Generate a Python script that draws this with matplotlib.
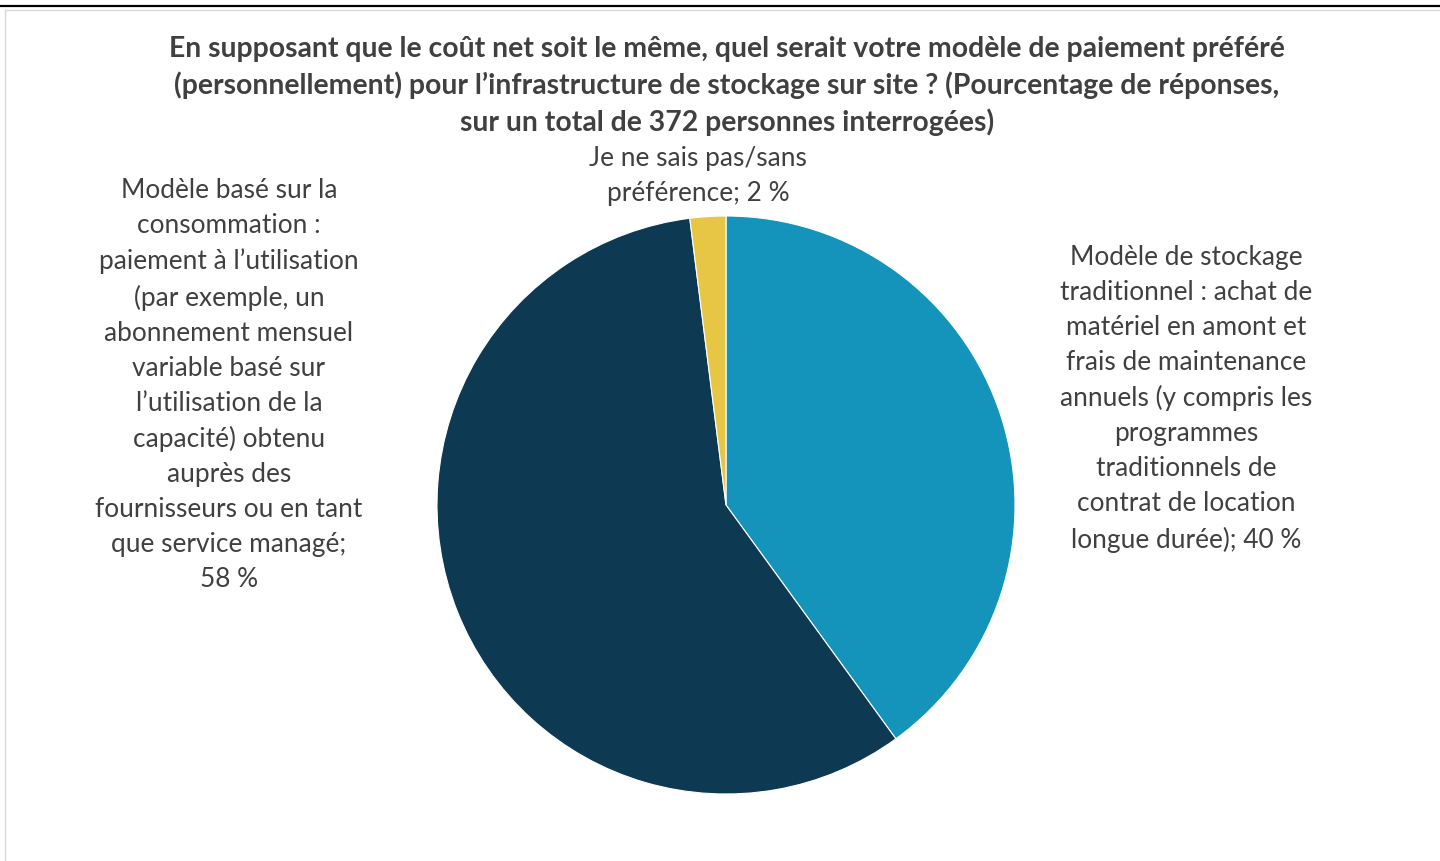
import matplotlib.pyplot as plt
from matplotlib.lines import Line2D

# data
labels = [
    "Modèle de stockage\ntraditionnel : achat de\nmatériel en amont et\nfrais de maintenance\n"
    "annuels (y compris les\nprogrammes\ntraditionnels de\ncontrat de location\nlongue durée); 40 %",
    "Modèle basé sur la\nconsommation :\npaiement à l’utilisation\n(par exemple, un\n"
    "abonnement mensuel\nvariable basé sur\nl’utilisation de la\ncapacité) obtenu\nauprès des\n"
    "fournisseurs ou en tant\nque service managé;\n58 %",
    "Je ne sais pas/sans\npréférence; 2 %",
]
values = [40, 58, 2]
colors = ["#1494BA", "#0D3A52", "#E8C645"]
title = ("En supposant que le coût net soit le même, quel serait votre modèle de paiement préféré\n"
         "(personnellement) pour l’infrastructure de stockage sur site ? (Pourcentage de réponses,\n"
         "sur un total de 372 personnes interrogées)")

W, H = 1440, 862
plt.rcParams['font.family'] = ['Lato', 'DejaVu Sans']
fig = plt.figure(figsize=(W / 100, H / 100), dpi=100)

def px(x, y):
    return x / W, 1 - y / H

# frame lines
fig.add_artist(Line2D([0, 1], [1 - 7 / H, 1 - 7 / H], color="black", lw=1.6))
fig.add_artist(Line2D([5 / W, 1], [1 - 11 / H, 1 - 11 / H], color="#D9D9D9", lw=1))
fig.add_artist(Line2D([5 / W, 5 / W], [0, 1 - 11 / H], color="#D9D9D9", lw=1))

# pie
cx, cy, r = 726, 506, 289
ax = fig.add_axes([(cx - r) / W, (H - cy - r) / H, 2 * r / W, 2 * r / H])
ax.pie(values, colors=colors, startangle=90, counterclock=False, radius=1,
       wedgeprops=dict(linewidth=0.8, edgecolor="white"))
ax.set_xlim(-1, 1)
ax.set_ylim(-1, 1)
ax.axis("off")

txt = "#404040"
fig.text(*px(727, 86), title, ha="center", va="center", fontsize=20.4, fontweight="bold",
         color=txt, linespacing=1.41)

label_pos = [(1186, 399), (229, 385), (698, 176)]
for lab, (x, y) in zip(labels, label_pos):
    fig.text(*px(x, y), lab, ha="center", va="center", fontsize=18.9, color=txt,
             linespacing=1.50)

fig.savefig("out.png", dpi=100, facecolor="white")
